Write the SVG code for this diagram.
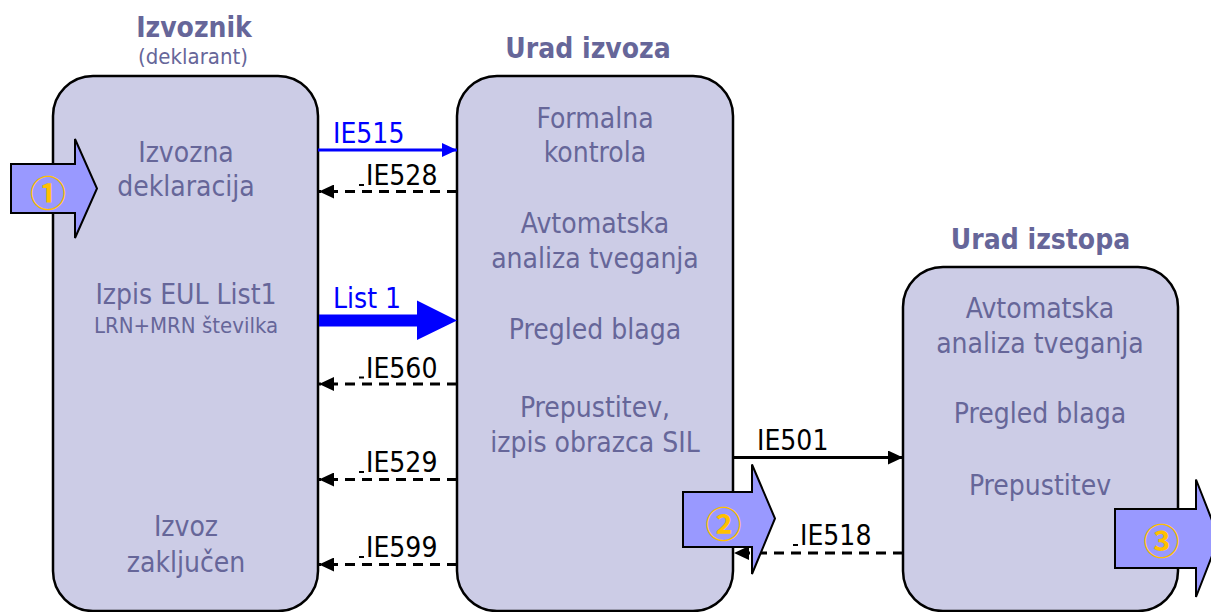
<svg xmlns="http://www.w3.org/2000/svg" width="1211" height="612" viewBox="0 0 1211 612">
<style>
  .box { fill: #CCCCE6; stroke: #000; stroke-width: 2.5; }
  .t { font-family: "DejaVu Sans Condensed", "DejaVu Sans", sans-serif; font-stretch: condensed; font-size: 28px; fill: #666699; text-anchor: middle; }
  .ts { font-size: 22px; }
  .hd { font-weight: bold; }
  .lbl { font-family: "DejaVu Sans Condensed", "DejaVu Sans", sans-serif; font-stretch: condensed; font-size: 28px; fill: #000; }
  .blue { fill: #0000FF; }
  .solid { stroke: #000; stroke-width: 3; fill: none; }
  .dash { stroke: #000; stroke-width: 3; fill: none; stroke-dasharray: 10 7; }
  .bl { stroke: #0000FF; stroke-width: 3; fill: none; }
  .big { fill: #9999FF; stroke: #000; stroke-width: 2; }
  .num { font-family: "Noto Sans CJK JP", "DejaVu Sans", sans-serif; font-size: 36px; font-weight: bold; fill: #FFC000; text-anchor: middle; dominant-baseline: central; }
  .us { stroke: #000; stroke-width: 2; }
</style>
<defs>
  <marker id="ah" markerUnits="userSpaceOnUse" viewBox="0 0 15 14" refX="15" refY="7" markerWidth="15" markerHeight="14" orient="auto">
    <path d="M0,0 L15,7 L0,14 z" fill="#000"/>
  </marker>
  <marker id="ahb" markerUnits="userSpaceOnUse" viewBox="0 0 15 14" refX="15" refY="7" markerWidth="15" markerHeight="14" orient="auto">
    <path d="M0,0 L15,7 L0,14 z" fill="#0000FF"/>
  </marker>
</defs>

<g id="izvoznik">
  <text class="t hd" x="194" y="37">Izvoznik</text>
  <text class="t ts" x="193" y="64">(deklarant)</text>
  <rect class="box" x="53" y="76" width="265" height="535" rx="40" ry="40"/>
  <text class="t" x="186" y="161.5">Izvozna</text>
  <text class="t" x="186" y="196">deklaracija</text>
  <text class="t" x="186" y="303.5">Izpis EUL List1</text>
  <text class="t ts" x="186" y="333">LRN+MRN številka</text>
  <text class="t" x="186" y="536">Izvoz</text>
  <text class="t" x="186" y="571.5">zaključen</text>
</g>

<g id="urad-izvoza">
  <text class="t hd" x="588" y="58">Urad izvoza</text>
  <rect class="box" x="457" y="76" width="276" height="535" rx="40" ry="40"/>
  <text class="t" x="595" y="127.5">Formalna</text>
  <text class="t" x="595" y="161.5">kontrola</text>
  <text class="t" x="595" y="233">Avtomatska</text>
  <text class="t" x="595" y="268">analiza tveganja</text>
  <text class="t" x="595" y="339">Pregled blaga</text>
  <text class="t" x="595" y="416.5">Prepustitev,</text>
  <text class="t" x="595" y="451.5">izpis obrazca SIL</text>
</g>

<g id="urad-izstopa">
  <text class="t hd" x="1040.5" y="249">Urad izstopa</text>
  <rect class="box" x="903" y="267" width="275" height="344" rx="40" ry="40"/>
  <text class="t" x="1040" y="317.5">Avtomatska</text>
  <text class="t" x="1040" y="353">analiza tveganja</text>
  <text class="t" x="1040" y="423">Pregled blaga</text>
  <text class="t" x="1040" y="495">Prepustitev</text>
</g>

<g id="connectors">
  <line class="bl" x1="318" y1="150" x2="457" y2="150" marker-end="url(#ahb)"/>
  <text class="lbl blue" x="333" y="143">IE515</text>

  <line class="dash" x1="457" y1="191.5" x2="319" y2="191.5" marker-end="url(#ah)"/>
  <line class="us" x1="359" y1="185" x2="364" y2="185"/>
  <text class="lbl" x="366" y="185">IE528</text>

  <polygon points="319,314.5 417,314.5 417,300.5 457,320.5 417,340 417,326.5 319,326.5" fill="#0000FF"/>
  <text class="lbl blue" x="333" y="308">List 1</text>

  <line class="dash" x1="457" y1="384" x2="319" y2="384" marker-end="url(#ah)"/>
  <line class="us" x1="359" y1="377.5" x2="364" y2="377.5"/>
  <text class="lbl" x="366" y="377.5">IE560</text>

  <line class="dash" x1="457" y1="479.5" x2="319" y2="479.5" marker-end="url(#ah)"/>
  <line class="us" x1="359" y1="472" x2="364" y2="472"/>
  <text class="lbl" x="366" y="472">IE529</text>

  <line class="dash" x1="457" y1="564.5" x2="319" y2="564.5" marker-end="url(#ah)"/>
  <line class="us" x1="359" y1="557" x2="364" y2="557"/>
  <text class="lbl" x="366" y="557">IE599</text>

  <line class="solid" x1="733" y1="457.5" x2="903" y2="457.5" marker-end="url(#ah)"/>
  <text class="lbl" x="757" y="450">IE501</text>

  <line class="dash" x1="903" y1="553" x2="734" y2="553" marker-end="url(#ah)"/>
  <line class="us" x1="793" y1="545" x2="798" y2="545"/>
  <text class="lbl" x="800" y="545">IE518</text>
</g>

<g id="step1">
  <polygon class="big" points="11,164 75,164 75,139 97,188.5 75,238 75,213 11,213"/>
  <text class="num" x="48" y="191">①</text>
</g>
<g id="step2">
  <polygon class="big" points="683,492 752,492 752,464.5 775,518.5 752,574 752,547 683,547"/>
  <text class="num" x="723.5" y="522">②</text>
</g>
<g id="step3">
  <polygon class="big" points="1115,509 1196,509 1196,479.5 1219,538 1196,597 1196,568 1115,568"/>
  <text class="num" x="1161.5" y="539">③</text>
</g>
</svg>
